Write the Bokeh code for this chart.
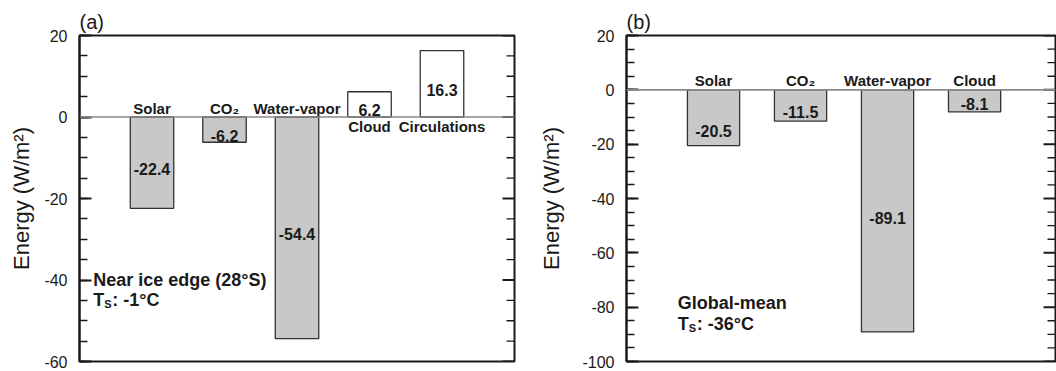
import math
from bokeh.plotting import figure
from bokeh.models import Range1d, Span, Label, ColumnDataSource, FixedTicker
from bokeh.layouts import row
from bokeh.embed import file_html
from bokeh.resources import INLINE
from bokeh.core.properties import value

# ---- data ----
cats_a = ["Solar", "CO\u2082", "Water-vapor", "Cloud", "Circulations"]
vals_a = [-22.4, -6.2, -54.4, 6.2, 16.3]
cats_b = ["Solar", "CO\u2082", "Water-vapor", "Cloud"]
vals_b = [-20.5, -11.5, -89.1, -8.1]
yticks_a = [20, 0, -20, -40, -60]
yticks_b = [20, 0, -20, -40, -60, -80, -100]

# label pixel nudges (style)
val_dy_a = [6, 6, 6, 6, 6]
val_dy_b = [13, 7, 7, 3]

FONT = "Liberation Sans"
DARK = "#1a1a1a"


def make_panel(title, cats, vals, val_dy, yticks, xr_end, fw, bl, br,
               ann_lines, ann_x, ann_y, ann_gap, ylab_standoff):
    ymin, ymax = min(yticks), max(yticks)
    p = figure(frame_width=fw, frame_height=326, x_range=Range1d(0, xr_end),
               y_range=Range1d(ymin, ymax), output_backend="svg",
               toolbar_location=None, min_border_left=bl, min_border_right=br,
               min_border_top=35, min_border_bottom=9)
    p.title.text = title
    p.title.text_font = FONT
    p.title.text_font_size = "20px"
    p.title.text_font_style = "normal"
    p.title.text_color = DARK
    p.title.align = "left"
    p.title.standoff = 6
    p.xaxis.visible = False
    p.grid.visible = False
    p.outline_line_color = DARK
    p.outline_line_width = 2

    minor = [t for t in range(ymin, ymax + 1, 5)]
    ticker = FixedTicker(ticks=yticks, minor_ticks=minor)
    ax = p.yaxis[0]
    ax.ticker = ticker
    ax.major_label_overrides = {t: str(t) for t in yticks}
    ax.axis_label = "Energy (W/m\u00b2)"
    ax.axis_label_text_font = FONT
    ax.axis_label_text_font_size = "22px"
    ax.axis_label_text_font_style = "normal"
    ax.axis_label_text_color = DARK
    ax.axis_label_standoff = ylab_standoff
    ax.major_label_text_font = FONT
    ax.major_label_text_font_size = "16px"
    ax.major_label_text_color = DARK
    ax.major_label_standoff = 12
    ax.axis_line_color = DARK
    ax.axis_line_width = 2
    ax.major_tick_in = 12
    ax.major_tick_out = 0
    ax.minor_tick_in = 8
    ax.minor_tick_out = 0
    ax.major_tick_line_color = DARK
    ax.major_tick_line_width = 2
    ax.minor_tick_line_color = DARK
    ax.minor_tick_line_width = 1.3

    # inward ticks on the right frame edge
    minor_only = [t for t in minor if t not in yticks]
    p.ray(x=[xr_end] * len(yticks), y=yticks, length=12, length_units="screen",
          angle=math.pi, line_color=DARK, line_width=2)
    p.ray(x=[xr_end] * len(minor_only), y=minor_only, length=8, length_units="screen",
          angle=math.pi, line_color=DARK, line_width=1.3)

    xs = list(range(1, len(cats) + 1))
    fills = ["#c8c8c8" if v < 0 else "#ffffff" for v in vals]
    src = ColumnDataSource(dict(x=xs, top=vals, fill=fills, lab=[f"{v:.1f}" for v in vals],
                                ymid=[v / 2 for v in vals], dy=val_dy, cat=cats))
    p.vbar(x="x", top="top", bottom=0, width=0.6, source=src, fill_color="fill",
           line_color="#333333", line_width=1.3)
    p.add_layout(Span(location=0, dimension="width", line_color="#8a8a8a", line_width=1.6))

    p.text(x="x", y="ymid", text="lab", source=src, text_font=value(FONT),
           text_font_size="16px", text_font_style="bold", text_align="center",
           text_baseline="middle", y_offset="dy", text_color=DARK)

    neg = [i for i, v in enumerate(vals) if v < 0]
    pos = [i for i, v in enumerate(vals) if v >= 0]
    if neg:
        p.text(x=[xs[i] for i in neg], y=[0] * len(neg), text=[cats[i] for i in neg],
               text_font=value(FONT), text_font_size="15px", text_font_style="bold",
               text_align="center", text_baseline="alphabetic", y_offset=-9,
               text_color=DARK)
    if pos:
        p.text(x=[xs[i] for i in pos], y=[0] * len(pos), text=[cats[i] for i in pos],
               text_font=value(FONT), text_font_size="15px", text_font_style="bold",
               text_align="center", text_baseline="top", y_offset=1,
               text_color=DARK)

    # annotation: first line, then "T" + subscript "S" + rest
    line1, rest = ann_lines
    p.add_layout(Label(x=ann_x, y=ann_y, text=line1, text_font=FONT, text_font_size="18px",
                       text_font_style="bold", text_color=DARK, text_baseline="middle"))
    p.add_layout(Label(x=ann_x, y=ann_y, y_offset=-ann_gap, text="T", text_font=FONT,
                       text_font_size="18px", text_font_style="bold", text_color=DARK,
                       text_baseline="middle"))
    p.add_layout(Label(x=ann_x, y=ann_y, x_offset=11, y_offset=-ann_gap - 4, text="S",
                       text_font=FONT, text_font_size="11px", text_font_style="bold",
                       text_color=DARK, text_baseline="middle"))
    p.add_layout(Label(x=ann_x, y=ann_y, x_offset=19, y_offset=-ann_gap, text=rest,
                       text_font=FONT, text_font_size="18px", text_font_style="bold",
                       text_color=DARK, text_baseline="middle"))
    return p


pa = make_panel("(a)", cats_a, vals_a, val_dy_a, yticks_a, 6.0, 435, 79, 21,
                ("Near ice edge (28\u00b0S)", ": -1\u00b0C"), 0.19, -39.9, 20, 7)
pb = make_panel("(b)", cats_b, vals_b, val_dy_b, yticks_b, 4.93, 429, 91, 1,
                ("Global-mean", ": -36\u00b0C"), 0.59, -78.3, 21, 15)

layout = row(pa, pb)
open("out.html", "w").write(file_html(layout, INLINE))
